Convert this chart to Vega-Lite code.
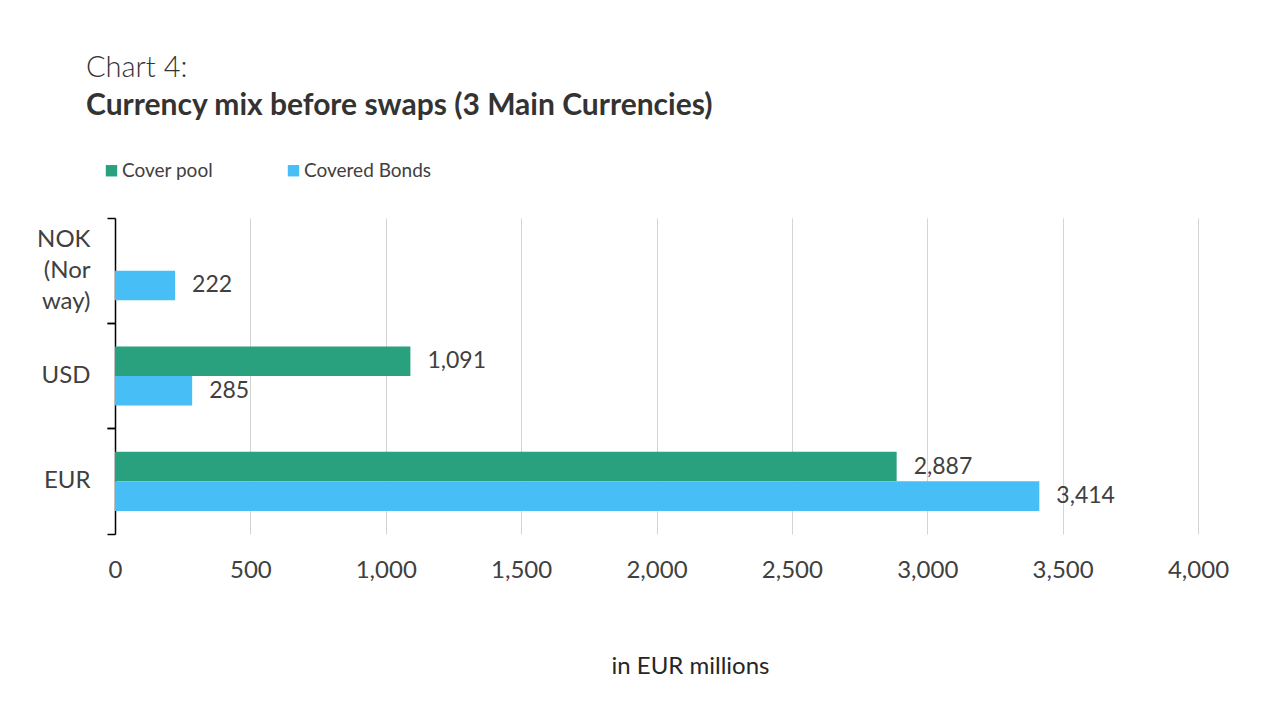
{
  "$schema": "https://vega.github.io/schema/vega-lite/v6.json",
  "width": 1083,
  "height": 316,
  "autosize": {"type": "none"},
  "padding": {"left": 115, "top": 218, "right": 73, "bottom": 169},
  "background": "white",
  "config": {
    "font": "Lato",
    "view": {"stroke": null}
  },
  "title": {
    "text": "Chart 4:",
    "subtitle": "Currency mix before swaps (3 Main Currencies)",
    "anchor": "start",
    "frame": "group",
    "dx": -29,
    "offset": 40,
    "font": "Lato",
    "fontSize": 29,
    "fontWeight": 300,
    "color": "#333333",
    "subtitleFont": "Lato",
    "subtitleFontSize": 30,
    "subtitleFontWeight": "bold",
    "subtitleColor": "#333333",
    "subtitlePadding": 8
  },
  "data": {
    "values": [
      {"currency": "NOK (Norway)", "series": "Covered Bonds", "value": 222},
      {"currency": "USD", "series": "Cover pool", "value": 1091},
      {"currency": "USD", "series": "Covered Bonds", "value": 285},
      {"currency": "EUR", "series": "Cover pool", "value": 2887},
      {"currency": "EUR", "series": "Covered Bonds", "value": 3414}
    ]
  },
  "encoding": {
    "x": {
      "field": "value",
      "type": "quantitative",
      "scale": {"domain": [0, 4000]},
      "axis": {
        "values": [0, 500, 1000, 1500, 2000, 2500, 3000, 3500, 4000],
        "format": ",.0f",
        "grid": true,
        "gridColor": "#d4d4d4",
        "gridWidth": 1,
        "domain": false,
        "ticks": false,
        "labelFlush": false,
        "labelFont": "Lato",
        "labelFontSize": 24,
        "labelColor": "#404040",
        "labelPadding": 24,
        "title": "in EUR millions",
        "titleFont": "Lato",
        "titleFontSize": 24,
        "titleFontWeight": "normal",
        "titleColor": "#262626",
        "titlePadding": 72,
        "titleX": 575
      }
    },
    "yOffset": {
      "field": "series",
      "type": "nominal",
      "scale": {"domain": ["Cover pool", "Covered Bonds"], "paddingInner": 0, "paddingOuter": 0.78}
    }
  },
  "layer": [
    {
      "transform": [{"filter": "datum.series === 'Cover pool'"}],
      "mark": {"type": "bar"},
      "encoding": {
        "y": {
          "field": "currency",
          "type": "nominal",
          "sort": ["NOK (Norway)", "USD", "EUR"],
          "scale": {"domain": ["NOK (Norway)", "USD", "EUR"], "paddingInner": 0, "paddingOuter": 0},
          "axis": {
            "orient": "left",
            "title": null,
            "ticks": false,
            "domain": true,
            "domainColor": "#000000",
            "domainWidth": 1.5,
            "labelFont": "Lato",
            "labelFontSize": 24,
            "labelColor": "#404040",
            "labelPadding": 25,
            "labelAlign": "right",
            "labelLineHeight": 31,
            "labelOffset": {"expr": "datum.value === 'NOK (Norway)' ? -31 : 0"},
            "labelExpr": "datum.value === 'NOK (Norway)' ? ['NOK', '(Nor', 'way)'] : datum.value"
          }
        },
        "color": {
          "field": "series",
          "type": "nominal",
          "scale": {"domain": ["Cover pool", "Covered Bonds"], "range": ["#29A07E", "#47BEF5"]},
          "legend": {
            "orient": "none",
            "legendX": -13,
            "legendY": -57,
            "direction": "horizontal",
            "title": null,
            "symbolType": "square",
            "symbolSize": 130,
            "symbolStrokeWidth": 0,
            "labelFont": "Lato",
            "labelFontSize": 19,
            "labelColor": "#404040",
            "labelOffset": 1,
            "columnPadding": 70
          }
        }
      }
    },
    {
      "transform": [{"filter": "datum.series === 'Covered Bonds'"}],
      "mark": {"type": "bar"},
      "encoding": {
        "y": {
          "field": "currency",
          "type": "nominal",
          "sort": ["NOK (Norway)", "USD", "EUR"],
          "axis": {
            "orient": "left",
            "title": null,
            "labels": false,
            "domain": false,
            "ticks": true,
            "tickSize": 8,
            "tickColor": "#000000",
            "tickWidth": 1.5,
            "bandPosition": 0
          }
        },
        "color": {
          "field": "series",
          "type": "nominal",
          "scale": {"domain": ["Cover pool", "Covered Bonds"], "range": ["#29A07E", "#47BEF5"]}
        }
      }
    },
    {
      "mark": {"type": "text", "align": "left", "baseline": "middle", "dx": 17, "font": "Lato", "fontSize": 23, "color": "#404040"},
      "encoding": {
        "y": {
          "field": "currency",
          "type": "nominal",
          "sort": ["NOK (Norway)", "USD", "EUR"],
          "axis": {
            "orient": "left",
            "title": null,
            "labels": false,
            "domain": false,
            "ticks": true,
            "tickSize": 8,
            "tickColor": "#000000",
            "tickWidth": 1.5,
            "bandPosition": 1
          }
        },
        "text": {"field": "value", "type": "quantitative", "format": ",.0f"}
      }
    }
  ],
  "resolve": {"axis": {"y": "independent"}}
}
